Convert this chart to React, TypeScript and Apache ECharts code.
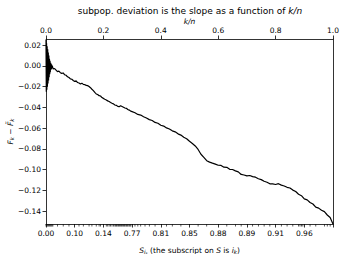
import React, { useEffect, useRef } from "react";
import * as echarts from "echarts";

const FONT = "DejaVu Sans";

// k/n positions and deviations (fan near 0, then the walk)
const kn: number[] = [
  0, 0.001, 0.002, 0.003, 0.004, 0.005, 0.006, 0.007, 0.008, 0.009, 0.01, 0.011, 0.012, 0.013, 0.014,
  0.015, 0.016, 0.017, 0.018, 0.019, 0.02, 0.021, 0.022, 0.025,
  0.03, 0.035, 0.04, 0.045, 0.05, 0.055, 0.06, 0.065, 0.07, 0.075, 0.08, 0.085, 0.09, 0.095,
  0.1, 0.105, 0.11, 0.115, 0.12, 0.125, 0.13, 0.135, 0.14, 0.145, 0.15, 0.155, 0.16, 0.165, 0.17,
  0.175, 0.18, 0.185, 0.19, 0.195, 0.2, 0.205, 0.21, 0.215, 0.22, 0.225, 0.23, 0.235, 0.24, 0.245,
  0.25, 0.255, 0.26, 0.265, 0.27, 0.275, 0.28, 0.285, 0.29, 0.295, 0.3, 0.31, 0.32, 0.33, 0.34,
  0.35, 0.36, 0.37, 0.38, 0.39, 0.4, 0.41, 0.42, 0.43, 0.44, 0.45, 0.46, 0.47, 0.48, 0.49, 0.5,
  0.51, 0.52, 0.53, 0.54, 0.55, 0.56, 0.57, 0.58, 0.59, 0.6, 0.61, 0.62, 0.63, 0.64, 0.65, 0.66,
  0.67, 0.68, 0.69, 0.7, 0.71, 0.72, 0.73, 0.74, 0.75, 0.76, 0.77, 0.78, 0.79, 0.8, 0.81, 0.82,
  0.83, 0.84, 0.85, 0.86, 0.87, 0.88, 0.89, 0.9, 0.91, 0.92, 0.93, 0.94, 0.95, 0.96, 0.97, 0.98,
  0.99, 1.0,
];
const deviation: number[] = [
  0.025, -0.025, 0.022, -0.023, 0.019, -0.02, 0.016, -0.017, 0.013, -0.014, 0.01, -0.011, 0.007,
  -0.008, 0.005, -0.006, 0.003, -0.004, 0.002, -0.003, 0.001, -0.002, 0.0, -0.003,
  -0.0025, -0.004, -0.0055, -0.005, -0.0065, -0.0072, -0.0068, -0.0085, -0.009, -0.0105, -0.0112,
  -0.0125, -0.0128, -0.014,
  -0.015, -0.0143, -0.016, -0.0165, -0.0174, -0.0166, -0.0178, -0.018, -0.0188, -0.019, -0.0198,
  -0.021, -0.0225, -0.0238, -0.0255,
  -0.027, -0.0276, -0.0287, -0.029, -0.0305, -0.0313, -0.0322, -0.0328, -0.0337, -0.0343, -0.0352,
  -0.036, -0.0366, -0.0377, -0.038,
  -0.039, -0.0394, -0.0384, -0.0391, -0.0398, -0.0406, -0.0409, -0.042, -0.0426, -0.0436, -0.0441,
  -0.0452, -0.0468, -0.0474, -0.049,
  -0.0503, -0.0518, -0.0526, -0.0545, -0.0553, -0.0572, -0.058, -0.0598, -0.0608, -0.0626, -0.0636,
  -0.0655, -0.0667, -0.0688, -0.0702, -0.0727,
  -0.0748, -0.0772, -0.0806, -0.0852, -0.0882, -0.0914, -0.0928, -0.0938, -0.0947, -0.0958, -0.096,
  -0.0977, -0.0978, -0.0997, -0.0999, -0.1012,
  -0.1022, -0.1047, -0.1052, -0.1061, -0.1057, -0.1068, -0.1073, -0.1088, -0.1097, -0.1113, -0.1122,
  -0.1137, -0.1138, -0.1144, -0.1136, -0.115,
  -0.1158, -0.1171, -0.1178, -0.1198, -0.1212, -0.1238, -0.1252, -0.1283, -0.1292, -0.1318, -0.1332,
  -0.1362, -0.1372, -0.1393, -0.1406, -0.1438,
  -0.1462, -0.1525,
];

// bottom-axis tick labels (S values at k/n = 0, 0.1, ..., 0.9)
const sTickLabels: string[] = ["0.00", "0.10", "0.14", "0.77", "0.81", "0.85", "0.88", "0.89", "0.91", "0.96"];
const yTickValues: number[] = [0.02, 0.0, -0.02, -0.04, -0.06, -0.08, -0.1, -0.12, -0.14];
// minor (rug) tick positions along the bottom axis, in k/n
const rugPositions: number[] = [
  0.0, 0.003, 0.006, 0.009, 0.012, 0.015, 0.018, 0.021, 0.024, 0.04, 0.06, 0.08, 0.115, 0.13, 0.15,
  0.16, 0.175, 0.185, 0.19, 0.21, 0.215, 0.22, 0.225, 0.23, 0.235, 0.24, 0.243, 0.246, 0.25, 0.253,
  0.256, 0.26, 0.263, 0.266, 0.27, 0.273, 0.276, 0.28, 0.283, 0.286, 0.29, 0.293, 0.296, 0.31,
  0.32, 0.33, 0.345, 0.36, 0.38, 0.42, 0.44, 0.47, 0.53, 0.56, 0.63, 0.66, 0.68, 0.72, 0.74, 0.76,
  0.78, 0.82, 0.84, 0.86, 0.88, 0.885, 0.89, 0.895, 0.92, 0.94, 0.97, 0.98, 0.99,
];

const Y_MIN = -0.1525;
const Y_MAX = 0.026;

export default function App() {
  const ref = useRef<HTMLDivElement>(null);
  useEffect(() => {
    if (!ref.current) return;
    const chart = echarts.init(ref.current, undefined, { renderer: "svg" });
    const axisLine = { show: true, onZero: false, lineStyle: { color: "#000", width: 0.8 } };
    const tickStyle = { show: true, inside: false, length: 3.5, lineStyle: { color: "#000", width: 0.8 } };
    const labelBase = { color: "#000", fontSize: 7.5, fontFamily: FONT, fontWeight: "normal" };
    const fmtY = (v: number) => {
      const r = Math.round(v * 100) / 100;
      const s = Math.abs(r).toFixed(2);
      return r < 0 ? "\u2212" + s : s;
    };
    chart.setOption({
      animation: false,
      backgroundColor: "#fff",
      title: {
        text: "{n|subpop. deviation is the slope as a function of }{i|k/n}",
        left: 190,
        textAlign: "center",
        top: 5,
        padding: 0,
        textStyle: {
          fontWeight: "normal",
          rich: {
            n: { fontSize: 9, fontFamily: FONT, color: "#000", fontWeight: "normal", lineHeight: 11 },
            i: { fontSize: 9, fontFamily: FONT, color: "#000", fontStyle: "italic", fontWeight: "normal", lineHeight: 11 },
          },
        },
      },
      grid: { left: 46, right: 12, top: 39, bottom: 30, containLabel: false, outerBoundsMode: "none" },
      xAxis: [
        {
          type: "value",
          position: "top",
          min: 0,
          max: 1,
          interval: 0.2,
          axisLine,
          axisTick: tickStyle,
          splitLine: { show: false },
          axisLabel: { ...labelBase, margin: 5, formatter: (v: number) => v.toFixed(1) },
          name: "k/n",
          nameLocation: "middle",
          nameGap: 14,
          nameMoveOverlap: false,
          nameTextStyle: { ...labelBase, fontStyle: "italic" },
        },
        {
          type: "value",
          position: "bottom",
          min: 0,
          max: 1,
          interval: 0.1,
          axisLine,
          axisTick: tickStyle,
          splitLine: { show: false },
          axisLabel: {
            ...labelBase,
            margin: 5,
            formatter: (v: number) => sTickLabels[Math.round(v * 10)] ?? "",
          },
          name:
            "{it|S}{sub|i}{subk|k}{n| (the subscript on }{it|S}{n| is }{it|i}{sub|k}{n|)}",
          nameLocation: "middle",
          nameGap: 21,
          nameMoveOverlap: false,
          nameTextStyle: {
            rich: {
              n: { ...labelBase, lineHeight: 10 },
              it: { ...labelBase, fontStyle: "italic", lineHeight: 10 },
              sub: { ...labelBase, fontSize: 5.5, fontStyle: "italic", verticalAlign: "bottom", lineHeight: 10 },
              subk: { ...labelBase, fontSize: 4, fontStyle: "italic", verticalAlign: "bottom", lineHeight: 9 },
            },
          },
        },
      ],
      yAxis: [
        {
          type: "value",
          min: Y_MIN,
          max: Y_MAX,
          axisLine,
          axisTick: { ...tickStyle, customValues: yTickValues },
          splitLine: { show: false },
          axisLabel: { ...labelBase, margin: 5, customValues: yTickValues, formatter: fmtY },
          name: "{it|F}{sub|k}{n| \u2212 }{it|F\u0303}{sub|k}",
          nameLocation: "middle",
          nameRotate: 90,
          nameGap: 31,
          nameMoveOverlap: false,
          nameTextStyle: {
            rich: {
              n: { ...labelBase, lineHeight: 10 },
              it: { ...labelBase, fontStyle: "italic", lineHeight: 10 },
              sub: { ...labelBase, fontSize: 5.5, fontStyle: "italic", verticalAlign: "bottom", lineHeight: 10 },
            },
          },
        },
        {
          type: "value",
          position: "right",
          min: Y_MIN,
          max: Y_MAX,
          axisLine,
          axisTick: { show: false },
          axisLabel: { show: false },
          splitLine: { show: false },
        },
      ],
      series: [
        {
          type: "line",
          xAxisIndex: 1,
          yAxisIndex: 0,
          data: kn.map((x, i) => [x, deviation[i]]),
          showSymbol: false,
          symbol: "none",
          smooth: false,
          lineStyle: { color: "#000", width: 1.2 },
          silent: true,
        },
        {
          type: "scatter",
          xAxisIndex: 1,
          yAxisIndex: 0,
          data: rugPositions.map((x) => [x, Y_MIN]),
          symbol: "rect",
          symbolSize: [0.8, 2.2],
          symbolOffset: [0, 1.3],
          itemStyle: { color: "#000" },
          clip: false,
          silent: true,
        },
      ],
    });
    return () => chart.dispose();
  }, []);
  return (
    <div
      ref={ref}
      style={{ position: "fixed", left: 0, top: 0, width: 345, height: 254, background: "#fff" }}
    />
  );
}
